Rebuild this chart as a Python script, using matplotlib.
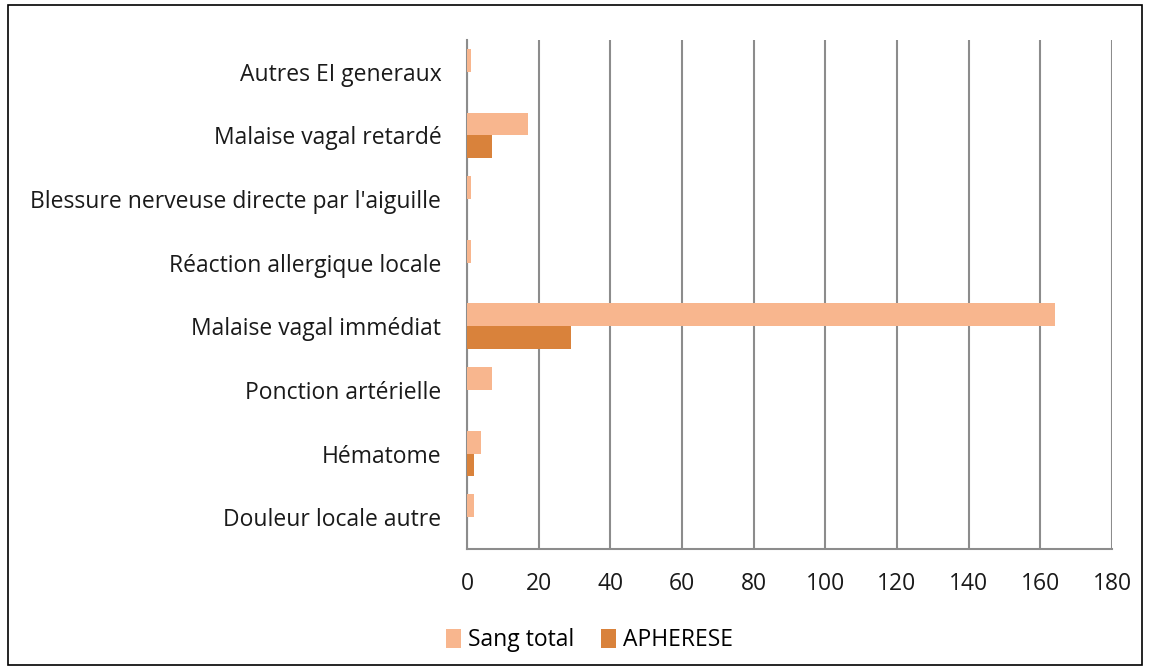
import matplotlib
matplotlib.use("Agg")
import matplotlib.pyplot as plt
import numpy as np
from matplotlib.patches import Rectangle

categories = ["Douleur locale autre", "Hématome", "Ponction artérielle",
              "Malaise vagal immédiat", "Réaction allergique locale",
              "Blessure nerveuse directe par l'aiguille", "Malaise vagal retardé",
              "Autres EI generaux"]
sang_total = [2, 4, 7, 164, 1, 1, 17, 1]
apherese = [0, 2, 0, 29, 0, 0, 7, 0]
xticks = [0, 20, 40, 60, 80, 100, 120, 140, 160, 180]

plt.rcParams['font.family'] = ['Open Sans', 'DejaVu Sans']
fig = plt.figure(figsize=(11.5, 6.72), dpi=100)
ax = fig.add_axes([467/1150, 1 - 549/672, (1112-467)/1150, (549-40)/672])

y = np.arange(len(categories))
h = 0.36
c1 = "#F8B68E"
c2 = "#D9823B"
ax.barh(y + h/2, sang_total, height=h, color=c1, label="Sang total", zorder=3)
ax.barh(y - h/2, apherese, height=h, color=c2, label="APHERESE", zorder=3)

ax.set_ylim(-0.5, len(categories) - 0.5)
ax.set_xlim(0, 180)
ax.set_xticks(xticks)
ax.set_yticks(y)
ax.set_yticklabels(categories)
ax.tick_params(axis='both', length=0, labelsize=16.5, colors='#1a1a1a')
ax.tick_params(axis='x', pad=16.5)
ax.tick_params(axis='y', pad=18.5)
ax.xaxis.grid(True, color='#8C8C8C', linewidth=1.5, zorder=0)
ax.set_axisbelow(True)
for s in ['top', 'right']:
    ax.spines[s].set_visible(False)
for s in ['left', 'bottom']:
    ax.spines[s].set_color('#8C8C8C')
    ax.spines[s].set_linewidth(1.5)

leg = fig.legend(loc='center', bbox_to_anchor=(589.5/1150, 1 - 640/672), ncol=2, frameon=False,
                 fontsize=16.5, handlelength=0.65, handleheight=0.9, columnspacing=1.2,
                 handletextpad=0.3)

fig.patches.append(Rectangle((8/1150, 1 - 665/672), (1142-8)/1150, (665-5)/672,
                             transform=fig.transFigure, fill=False, edgecolor='black',
                             linewidth=1.2))
fig.savefig("out.png", dpi=100)
